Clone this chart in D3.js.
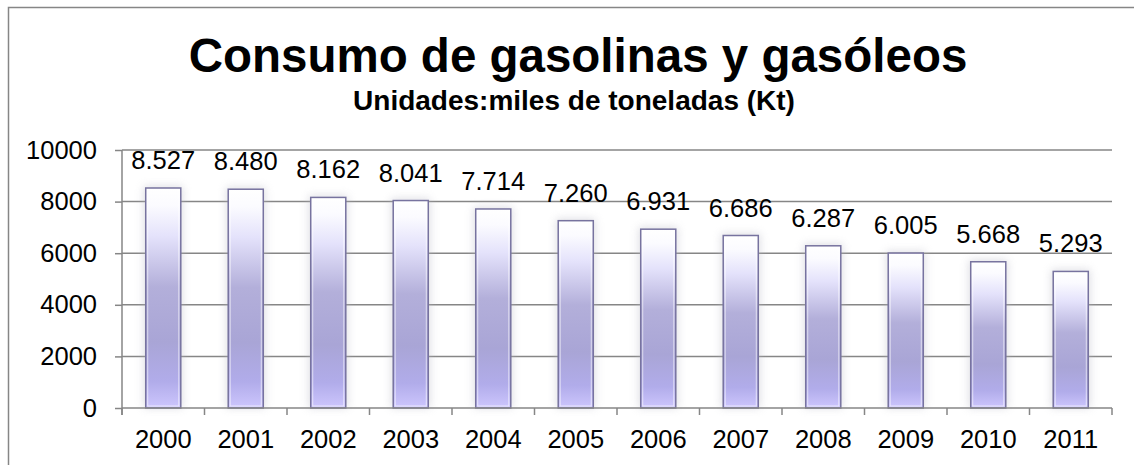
<!DOCTYPE html>
<html>
<head>
<meta charset="utf-8">
<script src="https://cdn.jsdelivr.net/npm/d3@7"></script>
<style>
  html, body { margin: 0; padding: 0; background: #fff; }
  svg { display: block; font-family: Arial, "Liberation Sans", sans-serif; }
</style>
</head>
<body>
<svg id="chart" width="1134" height="465"></svg>
<script>
const years = ["2000","2001","2002","2003","2004","2005","2006","2007","2008","2009","2010","2011"];
const consumo = [8527, 8480, 8162, 8041, 7714, 7260, 6931, 6686, 6287, 6005, 5668, 5293];
const yTicks = [0, 2000, 4000, 6000, 8000, 10000];
const titleText = "Consumo de gasolinas y gasóleos";
const subtitleText = "Unidades:miles de toneladas (Kt)";

const svg = d3.select("#chart");
const FS = 25.5;

// outer chart frame (extends beyond right / bottom edges)
svg.append("rect").attr("x", 8.5).attr("y", 7.5).attr("width", 1200).attr("height", 600)
  .attr("fill", "#fff").attr("stroke", "#868686").attr("stroke-width", 1.5);

const defs = svg.append("defs");
const grad = defs.append("linearGradient").attr("id", "barGrad")
  .attr("x1", 0).attr("y1", 0).attr("x2", 0).attr("y2", 1);
[[0, "#ffffff"], [0.08, "#fbfbff"], [0.22, "#e4e2fb"], [0.45, "#b3afda"], [0.7, "#a9a5d6"], [0.88, "#b1acea"], [1, "#cdc6fd"]]
  .forEach(([o, c]) => grad.append("stop").attr("offset", o).attr("stop-color", c));
const blur = defs.append("filter").attr("id", "glow").attr("x", "-50%").attr("y", "-20%").attr("width", "200%").attr("height", "140%");
blur.append("feGaussianBlur").attr("stdDeviation", 4);

const x0 = 122, x1 = 1112, y0 = 408, y1 = 150;
const x = d3.scaleBand().domain(years).range([x0, x1]).paddingInner(0.575).paddingOuter(0.2875);
const y = d3.scaleLinear().domain([0, 10000]).range([y0, y1]);

// gridlines
svg.append("g").selectAll("line").data(yTicks.filter(d => d > 0)).join("line")
  .attr("x1", x0).attr("x2", x1).attr("y1", d => y(d)).attr("y2", d => y(d))
  .attr("stroke", "#868686").attr("stroke-width", 1.5);

// y axis
const yAxis = svg.append("g").attr("transform", `translate(${x0},0)`)
  .call(d3.axisLeft(y).tickValues(yTicks).tickSize(7).tickPadding(18).tickFormat(d3.format("d")));
yAxis.select(".domain").attr("stroke", "#868686").attr("stroke-width", 1.5)
  .attr("d", `M0,${y1}V${y0 + 7}`);
yAxis.selectAll(".tick line").attr("stroke", "#868686").attr("stroke-width", 1.5);
yAxis.selectAll("text").attr("font-size", FS).attr("fill", "#000").attr("font-family", "Arial, 'Liberation Sans', sans-serif");

// bar glow
svg.append("g").selectAll("rect").data(years).join("rect")
  .attr("x", d => x(d) - 2).attr("width", x.bandwidth() + 4)
  .attr("y", (d, i) => y(consumo[i]) - 2).attr("height", (d, i) => y0 - y(consumo[i]) + 2)
  .attr("fill", "#b8b8c4").attr("opacity", 0.45).attr("filter", "url(#glow)");

// bars
const bars = svg.append("g");
bars.selectAll("rect.bar").data(years).join("rect").attr("class", "bar")
  .attr("x", d => x(d)).attr("width", x.bandwidth())
  .attr("y", (d, i) => y(consumo[i])).attr("height", (d, i) => y0 - y(consumo[i]))
  .attr("fill", "url(#barGrad)").attr("stroke", "#77739f").attr("stroke-width", 1.5);
// inner highlight
bars.selectAll("rect.hl").data(years).join("rect").attr("class", "hl")
  .attr("x", d => x(d) + 2).attr("width", x.bandwidth() - 4)
  .attr("y", (d, i) => y(consumo[i]) + 2).attr("height", (d, i) => y0 - y(consumo[i]) - 4)
  .attr("fill", "none").attr("stroke", "#ffffff").attr("stroke-opacity", 0.6).attr("stroke-width", 1);

// x axis
const xAxis = svg.append("g").attr("transform", `translate(0,${y0})`)
  .call(d3.axisBottom(x).tickSize(0).tickPadding(22));
xAxis.select(".domain").attr("stroke", "#868686").attr("stroke-width", 1.5).attr("d", `M${x0},0H${x1}`);
xAxis.selectAll("text").attr("font-size", FS).attr("fill", "#000").attr("font-family", "Arial, 'Liberation Sans', sans-serif");
// category boundary ticks
svg.append("g").selectAll("line").data(d3.range(years.length + 1)).join("line")
  .attr("x1", i => x0 + i * x.step()).attr("x2", i => x0 + i * x.step())
  .attr("y1", y0).attr("y2", y0 + 7)
  .attr("stroke", "#868686").attr("stroke-width", 1.5);

// data labels
const fmt = d3.formatLocale({ decimal: ",", thousands: ".", grouping: [3], currency: ["", "€"] }).format(",d");
svg.append("g").selectAll("text").data(years).join("text")
  .attr("x", d => x(d) + x.bandwidth() / 2)
  .attr("y", (d, i) => y(consumo[i]) - 19)
  .attr("text-anchor", "middle").attr("font-size", FS).attr("fill", "#000")
  .text((d, i) => fmt(consumo[i]));

// titles
svg.append("text").attr("x", 578).attr("y", 72).attr("text-anchor", "middle")
  .attr("font-size", 47.5).attr("font-weight", "bold").attr("fill", "#000").text(titleText);
svg.append("text").attr("x", 574).attr("y", 110).attr("text-anchor", "middle")
  .attr("font-size", 28).attr("font-weight", "bold").attr("fill", "#000").text(subtitleText);
</script>
</body>
</html>
